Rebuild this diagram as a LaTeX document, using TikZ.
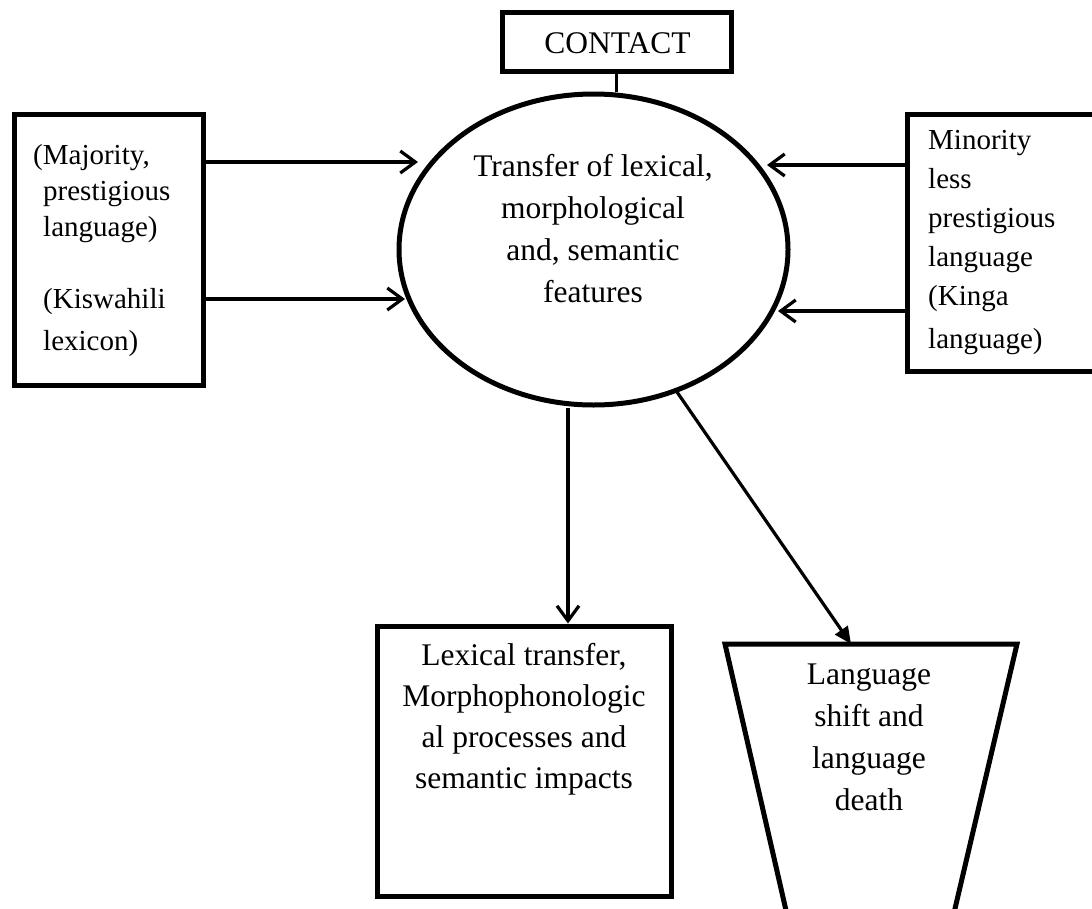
\documentclass[tikz,border=0pt]{standalone}
\usepackage{fontspec}
\setmainfont{Liberation Serif}
\usetikzlibrary{arrows.meta,shapes.geometric}
\begin{document}
\begin{tikzpicture}[x=1pt,y=-1pt,
  box/.style={draw, line width=5pt, rectangle, inner sep=0pt},
  conn/.style={line width=2.5pt},
  arr/.style={line width=3.2pt, -{Straight Barb[length=15pt,width=22pt,line width=3.2pt]}},
  tarr/.style={line width=3.2pt, -{Triangle[length=17pt,width=15pt]}},
  txt/.style={inner sep=0pt, font=\fontsize{31.5}{42}\selectfont, align=center, anchor=base},
  stxt/.style={inner sep=0pt, font=\fontsize{29}{39}\selectfont, align=left, anchor=base west}]
\useasboundingbox (0,0) rectangle (1092,908);
\fill[white] (0,0) rectangle (1092,908);
% shapes
\node[box, minimum width=229pt, minimum height=59pt] (contact) at (616.5,41.5) {};
\node[box, minimum width=189pt, minimum height=271pt] (lbox) at (108.5,249.5) {};
\node[box, minimum width=203pt, minimum height=257pt] (rbox) at (1008.5,242.5) {};
\node[box, minimum width=294pt, minimum height=270pt] (lex) at (524,761) {};
\node[draw, ellipse, line width=5pt, minimum width=389pt, minimum height=311pt, inner sep=0pt] (ell) at (593.5,249.5) {};
\draw[line width=5pt] (725,644) -- (1017,644) -- (950,930) -- (790.5,930) -- cycle;
\coordinate (trap) at (871,644);
% texts
\node[txt] (contactt) at (617.5,53) {CONTACT};
\node[stxt] (lboxt) at (43,350) {\hspace*{-10pt}(Majority,\\[-3pt]prestigious\\[-3pt]language)\\[33pt](Kiswahili\\[3pt]lexicon)};
\node[stxt] (rboxt) at (928,348) {Minority\\less\\prestigious\\language\\(Kinga\\[4pt]language)};
\node[txt] (ellt) at (593,302) {Transfer of lexical,\\morphological\\and, semantic\\features};
\node[txt, font=\fontsize{31.5}{41}\selectfont] (lext) at (524,788) {Lexical transfer,\\Morphophonologic\\al processes and\\semantic impacts};
\node[txt, font=\fontsize{31.5}{41.7}\selectfont] (trapt) at (869,810) {Language\\shift and\\language\\death};
% connectors
\draw[conn] (contact.south) -- (ell.north -| contact.south);
\coordinate (a1) at (418,162);
\coordinate (a2) at (405,299);
\coordinate (b1) at (767,165);
\coordinate (b2) at (778,311);
\draw[arr] (lbox.east |- a1) -- (a1);
\draw[arr] (lbox.east |- a2) -- (a2);
\draw[arr] (rbox.west |- b1) -- (b1);
\draw[arr] (rbox.west |- b2) -- (b2);
\coordinate (v) at (568,0);
\draw[arr] (ell.south -| v) -- (lex.north -| v);
\coordinate (d1) at (677,392);
\coordinate (d2) at (851,0);
\draw[tarr] (d1) -- (trap -| d2);
\end{tikzpicture}
\end{document}
